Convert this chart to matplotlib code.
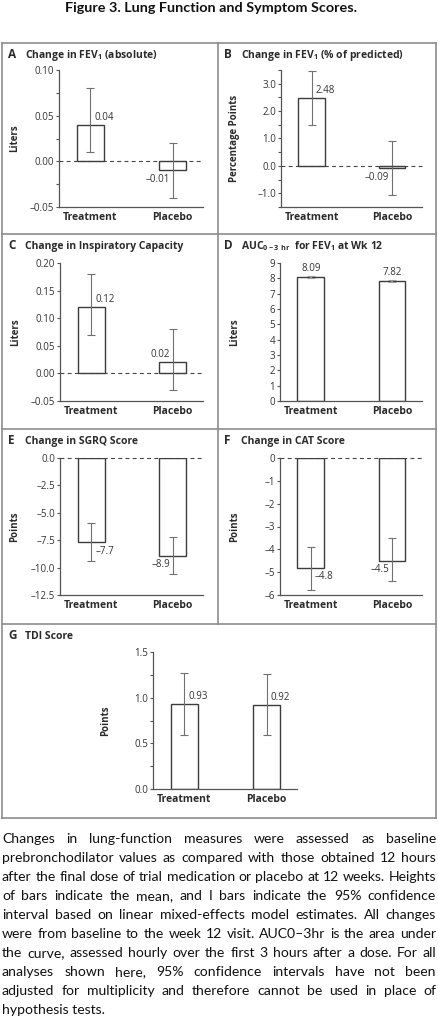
import numpy as np
import matplotlib
matplotlib.use("Agg")
import matplotlib.pyplot as plt
from matplotlib.lines import Line2D
from matplotlib.ticker import MultipleLocator, FuncFormatter
from matplotlib.font_manager import FontProperties

W, H = 438, 1024

plt.rcParams['font.family'] = ['Open Sans', 'DejaVu Sans']
plt.rcParams['mathtext.fontset'] = 'custom'
plt.rcParams['mathtext.rm'] = 'Open Sans'
plt.rcParams['mathtext.bf'] = 'Open Sans:bold'
plt.rcParams['mathtext.default'] = 'bf'

# --- data ---
groups = ["Treatment", "Placebo"]
letters = ["A", "B", "C", "D", "E", "F", "G"]
titles = [
    "Change in FEV$_1$ (absolute)",
    "Change in FEV$_1$ (% of predicted)",
    "Change in Inspiratory Capacity",
    "AUC$_{0-3\\ hr}$  for FEV$_1$ at Wk 12",
    "Change in SGRQ Score",
    "Change in CAT Score",
    "TDI Score",
]
ylabels = ["Liters", "Percentage Points", "Liters", "Liters", "Points", "Points", "Points"]
means = [[0.04, -0.01], [2.48, -0.09], [0.12, 0.02], [8.09, 7.82],
         [-7.7, -8.9], [-4.8, -4.5], [0.93, 0.92]]
ci_low = [[0.01, -0.04], [1.50, -1.07], [0.07, -0.03], [8.03, 7.77],
          [-9.4, -10.6], [-5.8, -5.4], [0.59, 0.59]]
ci_high = [[0.08, 0.02], [3.46, 0.90], [0.18, 0.08], [8.15, 7.87],
           [-5.9, -7.2], [-3.9, -3.5], [1.27, 1.26]]
value_labels = [["0.04", "–0.01"], ["2.48", "–0.09"], ["0.12", "0.02"], ["8.09", "7.82"],
                ["–7.7", "–8.9"], ["–4.8", "–4.5"], ["0.93", "0.92"]]
label_side = [["r", "l"], ["r", "l"], ["r", "l"], ["c", "c"], ["r", "l"], ["r", "l"], ["r", "r"]]
ylims = [(-0.05, 0.10), (-1.5, 3.5), (-0.05, 0.20), (0, 9), (-12.5, 0), (-6, 0), (0, 1.5)]
major_step = [0.05, 1, 0.05, 1, 2.5, 1, 0.5]
minor_step = [0.025, 0.5, None, None, None, None, 0.25]
tick_fmt = ["{:.2f}", "{:.1f}", "{:.2f}", "{:.0f}", "{:.1f}", "{:.0f}", "{:.1f}"]

fig_title = "Figure 3. Lung Function and Symptom Scores."
caption_lines = [
    "Changes in lung-function measures were assessed as baseline",
    "prebronchodilator values as compared with those obtained 12 hours",
    "after the final dose of trial medication or placebo at 12 weeks. Heights",
    "of bars indicate the mean, and I bars indicate the 95% confidence",
    "interval based on linear mixed-effects model estimates. All changes",
    "were from baseline to the week 12 visit. AUC0–3hr is the area under",
    "the curve, assessed hourly over the first 3 hours after a dose. For all",
    "analyses shown here, 95% confidence intervals have not been",
    "adjusted for multiplicity and therefore cannot be used in place of",
    "hypothesis tests.",
]

# --- layout (pixels: left, top, right, bottom) ---
axes_px = [(59, 70, 203, 207), (281, 70, 422, 207), (60, 263, 203, 401), (280, 263, 422, 401),
           (60, 458, 203, 595), (280, 458, 422, 595), (153, 652, 297, 789)]
ylabel_x = [20, 240, 21, 240, 20, 240, 111]
box_top = [43, 43, 234, 234, 429, 429, 624]
box_left = [2, 218, 2, 218, 2, 218, 2]

TEXT = "#2b2b2b"
GRAY = "#555555"
BORDER = "#8c8c8c"


def fx(px):
    return px / W


def fy(py):
    return 1 - py / H


fig = plt.figure(figsize=(W / 100, H / 100), dpi=100)
renderer = fig.canvas.get_renderer()


def text_w(s, size, family, weight="normal"):
    prop = FontProperties(family=family, size=size, weight=weight)
    w, _, _ = renderer.get_text_width_height_descent(s, prop, ismath=False)
    return w


# panel borders
for (x0, y0, x1, y1) in [(2, 43, 436, 43), (2, 818, 436, 818), (2, 43, 2, 818), (436, 43, 436, 818),
                         (2, 234, 436, 234), (2, 429, 436, 429), (2, 624, 436, 624), (218, 43, 218, 624)]:
    fig.add_artist(Line2D([fx(x0), fx(x1)], [fy(y0), fy(y1)], color=BORDER, lw=1.2))

x = np.arange(len(groups))
for i in range(len(letters)):
    l, t, r, b = axes_px[i]
    ax = fig.add_axes([fx(l), fy(b), fx(r - l), (b - t) / H])
    m = np.array(means[i])
    lo = np.array(ci_low[i])
    hi = np.array(ci_high[i])
    ax.bar(x, m, width=0.33, color="white", edgecolor="#3c3c3c", linewidth=1.0, zorder=2)
    ecol = "#999999" if i == 3 else "#707070"
    ax.errorbar(x, m, yerr=[m - lo, hi - m], fmt="none", ecolor=ecol,
                elinewidth=1.5 if i == 3 else 0.8, capsize=3, capthick=0.8, zorder=3)
    if ylims[i][0] < 0:
        ax.axhline(0, color="#444444", lw=0.8, ls=(0, (3.5, 3)), zorder=4, clip_on=False)
    ax.set_xlim(-0.38, 1.37)
    ax.set_ylim(*ylims[i])
    ax.yaxis.set_major_locator(MultipleLocator(major_step[i]))
    if minor_step[i]:
        ax.yaxis.set_minor_locator(MultipleLocator(minor_step[i]))
    fmt = tick_fmt[i]
    ax.yaxis.set_major_formatter(FuncFormatter(
        lambda v, p, fmt=fmt: fmt.format(0.0 if abs(v) < 1e-9 else v).replace("-", "–")))
    ax.tick_params(axis="y", which="both", length=2.5, width=0.8, color=GRAY,
                   labelsize=7, labelcolor="#333333", pad=1)
    ax.set_xticks(x)
    ax.set_xticklabels(groups, fontsize=7.5, fontweight="bold", color=TEXT)
    ax.tick_params(axis="x", length=0, pad=3.5)
    for s in ["top", "right"]:
        ax.spines[s].set_visible(False)
    for s in ["left", "bottom"]:
        ax.spines[s].set_color(GRAY)
        ax.spines[s].set_linewidth(0.9)
    ax.set_ylabel(ylabels[i], fontsize=7, fontweight="bold", color=TEXT)
    ax.yaxis.set_label_coords((ylabel_x[i] - l) / (r - l), 0.5)
    ax.patch.set_alpha(0)

    for j in range(len(groups)):
        side = label_side[i][j]
        if side == "c":
            xy, off, ha, va = (x[j], hi[j]), (0, 1.5), "center", "bottom"
        else:
            above = m[j] > 0
            dx = 3 if side == "r" else -2
            dy = 1.5 if above else -2.5
            xy = (x[j], m[j])
            off = (dx, dy)
            ha = "left" if side == "r" else "right"
            va = "bottom" if above else "top"
        ax.annotate(value_labels[i][j], xy=xy, xytext=off, textcoords="offset points",
                    ha=ha, va=va, fontsize=7, color="#333333", zorder=5)

    fig.text(fx(box_left[i] + 6), fy(box_top[i] + 15), letters[i], fontsize=8.5,
             fontweight="bold", color=TEXT, va="baseline")
    fig.text(fx(box_left[i] + 23), fy(box_top[i] + 15), titles[i], fontsize=7.5,
             fontweight="bold", color=TEXT, va="baseline")

# figure title, sized to its width in the reference
cap_font = ["Lato", "DejaVu Sans"]
tsize = 10 * 292 / text_w(fig_title, 10, cap_font, "bold")
fig.text(fx(211), fy(12), fig_title, fontsize=tsize, fontweight="bold", family=cap_font,
         color="#111111", ha="center", va="baseline")

# justified caption
x_left, x_right = 2, 436
size = 11.0
widest = max(text_w(line, size, cap_font) for line in caption_lines[:-1])
size = min(size, size * (x_right - x_left - 2) / widest)
for k, line in enumerate(caption_lines):
    base = 843 + 19 * k
    words = line.split(" ")
    if k == len(caption_lines) - 1:
        fig.text(fx(x_left), fy(base), line, fontsize=size, family=cap_font, color="#111111",
                 va="baseline")
        continue
    widths = [text_w(wd, size, cap_font) for wd in words]
    gap = (x_right - x_left - sum(widths)) / (len(words) - 1)
    xpos = x_left
    for wd, ww in zip(words, widths):
        fig.text(fx(xpos), fy(base), wd, fontsize=size, family=cap_font, color="#111111",
                 va="baseline")
        xpos += ww + gap

fig.savefig("out.png", dpi=100, facecolor="white")
